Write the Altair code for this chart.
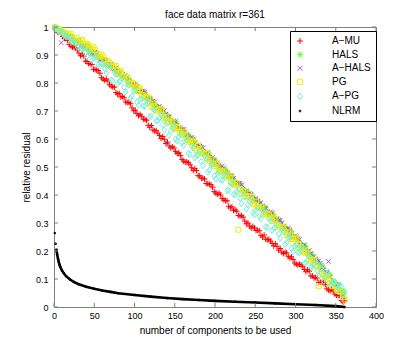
import altair as alt
import pandas as pd

chart_title = "face data matrix r=361"
x_title = "number of components to be used"
y_title = "relative residual"
font = "Liberation Sans"

methods = ["A−MU", "HALS", "A−HALS", "PG", "A−PG", "NLRM"]
method_colors = ["#ff0000", "#66ff22", "#b04ce8", "#eeee00", "#70f0d8", "#000000"]
method_shapes = [
    "M-1,0L1,0M0,-1L0,1",
    "M-1,0L1,0M0,-1L0,1M-0.7,-0.7L0.7,0.7M-0.7,0.7L0.7,-0.7",
    "M-0.8,-0.8L0.8,0.8M-0.8,0.8L0.8,-0.8",
    "M-0.85,-0.85L0.85,-0.85L0.85,0.85L-0.85,0.85Z",
    "M0,-1.1L0.8,0L0,1.1L-0.8,0Z",
    "M-0.25,-0.25L0.25,-0.25L0.25,0.25L-0.25,0.25Z",
]

x_ticks = [0, 50, 100, 150, 200, 250, 300, 350, 400]
y_ticks = [0.0, 0.1, 0.2, 0.3, 0.4, 0.5, 0.6, 0.7, 0.8, 0.9, 1.0]

# number of components: r = 1, 5, 9, ..., 361 (set a) and r = 3, 7, ..., 359 (set b)
r_a = list(range(1, 362, 4))
r_b = list(range(3, 360, 4))

amu_a = [0.996, 0.980, 0.979, 0.959, 0.952, 0.932, 0.929, 0.918, 0.897, 0.896,
         0.877, 0.869, 0.849, 0.846, 0.835, 0.814, 0.814, 0.794, 0.786, 0.766,
         0.763, 0.752, 0.732, 0.731, 0.711, 0.703, 0.683, 0.681, 0.670, 0.649,
         0.648, 0.629, 0.621, 0.602, 0.599, 0.589, 0.568, 0.568, 0.548, 0.541,
         0.521, 0.519, 0.508, 0.488, 0.487, 0.468, 0.460, 0.441, 0.438, 0.428,
         0.407, 0.407, 0.387, 0.380, 0.360, 0.358, 0.347, 0.327, 0.326, 0.307,
         0.300, 0.282, 0.282, 0.274, 0.256, 0.257, 0.240, 0.235, 0.218, 0.217,
         0.209, 0.191, 0.193, 0.175, 0.170, 0.153, 0.153, 0.144, 0.126, 0.128,
         0.111, 0.105, 0.088, 0.088, 0.080, 0.061, 0.063, 0.046, 0.041, 0.023,
         0.023]
amu_b = [0.987, 0.984, 0.966, 0.962, 0.938, 0.928, 0.925, 0.907, 0.903, 0.878,
         0.869, 0.866, 0.848, 0.844, 0.819, 0.809, 0.807, 0.789, 0.785, 0.760,
         0.750, 0.747, 0.730, 0.726, 0.701, 0.691, 0.688, 0.671, 0.667, 0.642,
         0.632, 0.630, 0.612, 0.609, 0.584, 0.575, 0.572, 0.555, 0.551, 0.527,
         0.517, 0.515, 0.497, 0.494, 0.469, 0.460, 0.457, 0.440, 0.436, 0.412,
         0.402, 0.400, 0.382, 0.379, 0.354, 0.345, 0.342, 0.325, 0.321, 0.297,
         0.289, 0.288, 0.273, 0.272, 0.250, 0.242, 0.242, 0.227, 0.226, 0.203,
         0.196, 0.196, 0.181, 0.179, 0.157, 0.150, 0.150, 0.134, 0.133, 0.111,
         0.104, 0.103, 0.088, 0.087, 0.065, 0.057, 0.057, 0.042, 0.041, 0.018]

hals_a = [0.999, 0.992, 0.985, 0.977, 0.969, 0.967, 0.950, 0.948, 0.947, 0.924,
          0.929, 0.910, 0.908, 0.906, 0.883, 0.886, 0.868, 0.865, 0.864, 0.840,
          0.843, 0.823, 0.819, 0.816, 0.791, 0.793, 0.773, 0.769, 0.766, 0.740,
          0.741, 0.720, 0.715, 0.711, 0.685, 0.686, 0.665, 0.660, 0.656, 0.630,
          0.631, 0.610, 0.605, 0.601, 0.575, 0.576, 0.555, 0.550, 0.546, 0.520,
          0.521, 0.500, 0.495, 0.491, 0.465, 0.466, 0.445, 0.440, 0.436, 0.410,
          0.411, 0.391, 0.386, 0.383, 0.357, 0.359, 0.338, 0.334, 0.330, 0.305,
          0.306, 0.285, 0.280, 0.276, 0.250, 0.251, 0.228, 0.221, 0.215, 0.188,
          0.188, 0.164, 0.157, 0.150, 0.121, 0.119, 0.095, 0.086, 0.079, 0.051,
          0.049]
hals_b = [0.996, 0.989, 0.981, 0.973, 0.962, 0.965, 0.950, 0.946, 0.931, 0.934,
          0.919, 0.914, 0.899, 0.900, 0.885, 0.880, 0.865, 0.866, 0.851, 0.846,
          0.829, 0.829, 0.812, 0.806, 0.789, 0.789, 0.772, 0.766, 0.749, 0.748,
          0.730, 0.723, 0.705, 0.704, 0.686, 0.679, 0.661, 0.660, 0.642, 0.635,
          0.617, 0.616, 0.598, 0.591, 0.573, 0.572, 0.554, 0.547, 0.529, 0.528,
          0.510, 0.503, 0.485, 0.484, 0.466, 0.459, 0.441, 0.440, 0.422, 0.415,
          0.397, 0.397, 0.379, 0.373, 0.355, 0.355, 0.337, 0.331, 0.313, 0.313,
          0.295, 0.288, 0.270, 0.269, 0.251, 0.243, 0.223, 0.220, 0.200, 0.192,
          0.172, 0.169, 0.148, 0.138, 0.117, 0.113, 0.092, 0.081, 0.061, 0.057]

ahals_a = [0.998, 0.990, 0.944, 0.979, 0.967, 0.959, 0.951, 0.954, 0.931, 0.934,
           0.933, 0.912, 0.903, 0.905, 0.882, 0.884, 0.882, 0.861, 0.852, 0.854,
           0.830, 0.831, 0.827, 0.805, 0.794, 0.795, 0.770, 0.771, 0.767, 0.744,
           0.732, 0.732, 0.706, 0.706, 0.701, 0.678, 0.666, 0.666, 0.640, 0.640,
           0.635, 0.612, 0.600, 0.600, 0.574, 0.574, 0.569, 0.546, 0.534, 0.534,
           0.508, 0.508, 0.503, 0.480, 0.468, 0.468, 0.442, 0.442, 0.437, 0.414,
           0.402, 0.403, 0.377, 0.378, 0.373, 0.351, 0.339, 0.340, 0.314, 0.315,
           0.310, 0.287, 0.275, 0.275, 0.249, 0.249, 0.242, 0.217, 0.203, 0.202,
           0.175, 0.172, 0.165, 0.139, 0.124, 0.163, 0.086, 0.081, 0.073, 0.046,
           0.027]
ahals_b = [0.996, 0.989, 0.981, 0.973, 0.968, 0.963, 0.945, 0.951, 0.933, 0.930,
           0.924, 0.905, 0.911, 0.892, 0.888, 0.881, 0.863, 0.868, 0.850, 0.845,
           0.837, 0.817, 0.821, 0.801, 0.795, 0.787, 0.767, 0.771, 0.751, 0.744,
           0.735, 0.714, 0.717, 0.696, 0.689, 0.680, 0.659, 0.662, 0.641, 0.634,
           0.625, 0.604, 0.607, 0.586, 0.579, 0.570, 0.549, 0.552, 0.531, 0.524,
           0.515, 0.494, 0.497, 0.476, 0.469, 0.460, 0.439, 0.442, 0.421, 0.414,
           0.405, 0.385, 0.388, 0.368, 0.361, 0.353, 0.332, 0.336, 0.315, 0.309,
           0.300, 0.279, 0.282, 0.261, 0.254, 0.244, 0.221, 0.222, 0.199, 0.191,
           0.180, 0.157, 0.157, 0.133, 0.123, 0.108, 0.080, 0.079, 0.055, 0.042]

pg_a = [0.999, 0.993, 0.987, 0.979, 0.971, 0.975, 0.953, 0.949, 0.954, 0.931,
        0.940, 0.925, 0.928, 0.901, 0.894, 0.895, 0.869, 0.873, 0.859, 0.861,
        0.834, 0.825, 0.825, 0.797, 0.800, 0.784, 0.785, 0.757, 0.748, 0.748,
        0.715, 0.718, 0.702, 0.703, 0.675, 0.666, 0.666, 0.638, 0.641, 0.625,
        0.626, 0.598, 0.589, 0.589, 0.561, 0.564, 0.548, 0.549, 0.521, 0.512,
        0.512, 0.484, 0.487, 0.471, 0.472, 0.444, 0.435, 0.276, 0.407, 0.410,
        0.394, 0.394, 0.366, 0.358, 0.358, 0.331, 0.334, 0.319, 0.320, 0.293,
        0.284, 0.284, 0.256, 0.259, 0.243, 0.244, 0.212, 0.201, 0.199, 0.169,
        0.170, 0.151, 0.074, 0.119, 0.107, 0.104, 0.074, 0.075, 0.057, 0.057,
        0.027]
pg_b = [0.996, 0.990, 0.983, 0.975, 0.970, 0.957, 0.962, 0.942, 0.953, 0.937,
        0.934, 0.917, 0.918, 0.895, 0.902, 0.882, 0.877, 0.860, 0.861, 0.837,
        0.844, 0.822, 0.816, 0.797, 0.797, 0.772, 0.778, 0.756, 0.750, 0.728,
        0.726, 0.701, 0.707, 0.685, 0.679, 0.660, 0.660, 0.635, 0.641, 0.619,
        0.613, 0.594, 0.594, 0.569, 0.575, 0.553, 0.547, 0.528, 0.528, 0.503,
        0.509, 0.487, 0.481, 0.462, 0.462, 0.437, 0.443, 0.421, 0.415, 0.396,
        0.395, 0.370, 0.376, 0.355, 0.349, 0.331, 0.331, 0.307, 0.313, 0.292,
        0.286, 0.267, 0.267, 0.242, 0.248, 0.224, 0.215, 0.194, 0.192, 0.165,
        0.168, 0.144, 0.135, 0.113, 0.110, 0.083, 0.087, 0.063, 0.055, 0.035]

apg_a = [1.000, 0.987, 0.986, 0.968, 0.967, 0.948, 0.952, 0.929, 0.918, 0.928,
         0.895, 0.905, 0.887, 0.894, 0.859, 0.870, 0.836, 0.858, 0.807, 0.831,
         0.805, 0.822, 0.769, 0.792, 0.753, 0.774, 0.721, 0.744, 0.717, 0.734,
         0.681, 0.704, 0.665, 0.686, 0.633, 0.656, 0.629, 0.646, 0.593, 0.616,
         0.577, 0.598, 0.545, 0.568, 0.541, 0.558, 0.505, 0.528, 0.489, 0.510,
         0.457, 0.480, 0.453, 0.470, 0.417, 0.440, 0.401, 0.422, 0.369, 0.392,
         0.365, 0.383, 0.330, 0.354, 0.315, 0.337, 0.284, 0.308, 0.281, 0.299,
         0.246, 0.269, 0.230, 0.251, 0.198, 0.221, 0.194, 0.211, 0.158, 0.181,
         0.142, 0.163, 0.111, 0.134, 0.107, 0.124, 0.085, 0.091, 0.066, 0.074,
         0.058]
apg_b = [0.996, 0.982, 0.978, 0.966, 0.963, 0.946, 0.944, 0.930, 0.923, 0.907,
         0.916, 0.880, 0.893, 0.865, 0.868, 0.850, 0.865, 0.810, 0.838, 0.798,
         0.807, 0.784, 0.803, 0.746, 0.773, 0.732, 0.741, 0.718, 0.737, 0.680,
         0.707, 0.666, 0.675, 0.652, 0.671, 0.614, 0.641, 0.600, 0.609, 0.586,
         0.605, 0.548, 0.575, 0.534, 0.543, 0.520, 0.539, 0.482, 0.509, 0.468,
         0.477, 0.454, 0.473, 0.416, 0.443, 0.402, 0.411, 0.388, 0.407, 0.350,
         0.378, 0.337, 0.347, 0.324, 0.344, 0.287, 0.315, 0.274, 0.284, 0.261,
         0.280, 0.223, 0.250, 0.209, 0.218, 0.195, 0.214, 0.157, 0.184, 0.143,
         0.152, 0.130, 0.149, 0.092, 0.119, 0.079, 0.090, 0.073, 0.078, 0.044]

nlrm_r = [1, 2, 3, 4, 5, 6, 7, 8, 10, 12, 15, 20, 25, 30, 40, 50, 60, 70, 80,
          100, 120, 140, 160, 180, 200, 225, 250, 275, 300, 325, 350, 361]
nlrm = [0.264, 0.226, 0.205, 0.186, 0.172, 0.160, 0.150, 0.142, 0.130, 0.121,
        0.110, 0.098, 0.089, 0.082, 0.072, 0.065, 0.059, 0.054, 0.049, 0.043,
        0.037, 0.032, 0.028, 0.025, 0.022, 0.019, 0.016, 0.013, 0.010, 0.007,
        0.003, 0.000]

series = [(amu_a, amu_b), (hals_a, hals_b), (ahals_a, ahals_b), (pg_a, pg_b), (apg_a, apg_b)]
rows = []
for name, (va, vb) in zip(methods[:5], series):
    pts = list(zip(r_a, va)) + list(zip(r_b, vb))
    pts.sort()
    for r, v in pts:
        rows.append({"r": r, "residual": v, "method": name})
for r, v in zip(nlrm_r, nlrm):
    rows.append({"r": r, "residual": v, "method": "NLRM"})
df = pd.DataFrame(rows)
df_line = pd.DataFrame({"r": nlrm_r[2:], "residual": nlrm[2:]})
df_xt = pd.DataFrame({"r": x_ticks})
df_yt = pd.DataFrame({"residual": y_ticks})

xscale = alt.Scale(domain=[0, 400], nice=False)
yscale = alt.Scale(domain=[0, 1], nice=False)

x_axis = alt.Axis(values=x_ticks, format="d", tickSize=0, domain=False, grid=False,
                  labelFontSize=9, labelFont=font, labelPadding=4, labelColor="black",
                  labelFlush=False, labelOverlap=False,
                  titleFontSize=10, titleFont=font, titleFontWeight="normal",
                  titlePadding=5, titleColor="black")
y_axis = alt.Axis(values=y_ticks, format=".1~f", tickSize=0, domain=False, grid=False,
                  labelFontSize=9, labelFont=font, labelPadding=6, labelColor="black",
                  labelFlush=False, labelOverlap=False,
                  titleFontSize=10, titleFont=font, titleFontWeight="normal",
                  titlePadding=4, titleColor="black")

X = alt.X("r:Q", scale=xscale, axis=x_axis, title=x_title)
Y = alt.Y("residual:Q", scale=yscale, axis=y_axis, title=y_title)

legend = alt.Legend(title=None, orient="none", legendX=236, legendY=4,
                    strokeColor="black", fillColor="white", padding=5,
                    labelFontSize=10, labelFont=font, labelColor="black",
                    labelOffset=27, rowPadding=3.6,
                    symbolStrokeWidth=1, symbolSize=36, cornerRadius=0)

scatter = alt.Chart(df).mark_point(filled=False, size=32, strokeWidth=1, opacity=1).encode(
    x=X, y=Y,
    color=alt.Color("method:N", scale=alt.Scale(domain=methods, range=method_colors), legend=legend),
    shape=alt.Shape("method:N", scale=alt.Scale(domain=methods, range=method_shapes), legend=legend),
)

line = alt.Chart(df_line).mark_line(color="black", strokeWidth=2.6).encode(x=X, y=Y)

tick_color = "#7f7f7f"
bottom_ticks = alt.Chart(df_xt).mark_rule(color=tick_color).encode(
    x=X, y=alt.value(280), y2=alt.value(276))
top_ticks = alt.Chart(df_xt).mark_rule(color=tick_color).encode(
    x=X, y=alt.value(0), y2=alt.value(4))
left_ticks = alt.Chart(df_yt).mark_rule(color=tick_color).encode(
    y=Y, x=alt.value(0), x2=alt.value(4))
right_ticks = alt.Chart(df_yt).mark_rule(color=tick_color).encode(
    y=Y, x=alt.value(322), x2=alt.value(318))

chart = alt.layer(scatter, line, bottom_ticks, top_ticks, left_ticks, right_ticks).properties(
    width=322, height=280,
    title=alt.TitleParams(chart_title, fontSize=10, fontWeight="normal", font=font,
                          color="black", offset=2),
    padding={"left": 46, "top": 19, "right": 10, "bottom": 30},
    autosize=alt.AutoSizeParams(type="none"),
    background="white",
).configure_view(stroke="#7f7f7f", strokeWidth=1)

chart.save("out.html", embed_options={"renderer": "svg", "actions": False})
